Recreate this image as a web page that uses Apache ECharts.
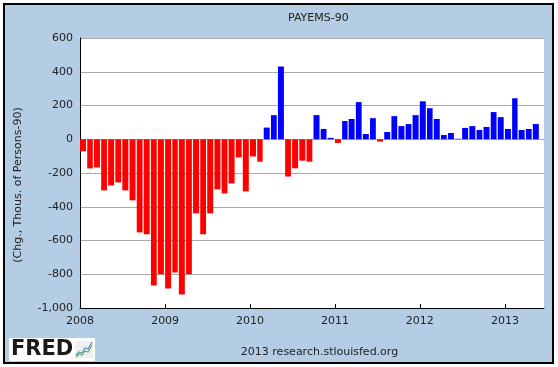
<!DOCTYPE html>
<html><head><meta charset="utf-8">
<script src="https://cdn.jsdelivr.net/npm/echarts@6/dist/echarts.min.js"></script>
<style>html,body{margin:0;padding:0;background:#fff}#c{width:558px;height:367px}</style>
</head><body><div id="c"></div>
<script>
// Monthly change, thousands of persons (PAYEMS-90), Jan 2008 - May 2013
const v2008 = [-71, -173, -167, -303, -274, -256, -303, -362, -552, -563, -867, -800];
const v2009 = [-885, -790, -920, -800, -439, -563, -439, -297, -321, -262, -108, -309];
const v2010 = [-102, -133, 69, 143, 431, -221, -172, -127, -133, 143, 61, 8];
const v2011 = [-22, 108, 120, 220, 31, 125, -14, 43, 137, 78, 90, 143];
const v2012 = [225, 184, 120, 25, 37, 3, 67, 78, 55, 73, 161, 131];
const v2013 = [61, 243, 55, 61, 90];
const years = [2008, 2009, 2010, 2011, 2012, 2013];
const yearValues = [v2008, v2009, v2010, v2011, v2012, v2013];
const yTicks = [-1000, -800, -600, -400, -200, 0, 200, 400, 600];

// each monthly observation covers its whole month: [monthStart, monthEnd, value]
const data = [];
years.forEach((yr, k) => {
  yearValues[k].forEach((val, m) => {
    data.push([Date.UTC(yr, m, 1), Date.UTC(yr, m + 1, 1), val]);
  });
});

function renderBar(params, api) {
  const start = api.value(0), end = api.value(1), val = api.value(2);
  const p0 = api.coord([start, 0]);
  const p1 = api.coord([end, val]);
  const w = (p1[0] - p0[0]) * 0.83;
  const top = Math.min(p0[1], p1[1]);
  const h = Math.abs(p1[1] - p0[1]);
  return {
    type: 'rect',
    shape: {x: p0[0], y: top, width: w, height: h},
    style: {fill: val < 0 ? '#ff0000' : '#0000ff'}
  };
}

const FONT = 'DejaVu Sans';
const chart = echarts.init(document.getElementById('c'), null, {renderer: 'canvas'});
chart.setOption({
  useUTC: true,
  backgroundColor: '#ffffff',
  animation: false,
  title: {
    text: 'PAYEMS-90', left: 283, top: 8,
    textStyle: {fontFamily: FONT, fontSize: 11, fontWeight: 'normal', color: '#222'}
  },
  grid: {left: 80, right: 14, top: 38, bottom: 59, show: true, backgroundColor: '#ffffff', borderWidth: 0, containLabel: false},
  xAxis: {
    type: 'time',
    min: Date.UTC(2008, 0, 1),
    max: Date.UTC(2013, 5, 18),
    minInterval: 365 * 24 * 3600 * 1000,
    maxInterval: 366 * 24 * 3600 * 1000,
    axisLine: {show: true, onZero: false, lineStyle: {color: '#000', width: 1}},
    axisTick: {show: true, inside: true, length: 4, lineStyle: {color: '#000'}},
    splitLine: {show: false},
    axisLabel: {
      fontFamily: FONT, fontSize: 11, color: '#222', margin: 8,
      showMinLabel: true, showMaxLabel: false,
      formatter: v => String(new Date(v + 86400000).getUTCFullYear())
    }
  },
  yAxis: {
    type: 'value', min: yTicks[0], max: yTicks[yTicks.length - 1], interval: 200,
    axisLine: {show: true, lineStyle: {color: '#000', width: 1}},
    axisTick: {show: false},
    splitLine: {show: true, lineStyle: {color: '#aaaaaa', width: 1}},
    axisLabel: {
      fontFamily: FONT, fontSize: 11, color: '#222', margin: 7,
      formatter: v => v.toLocaleString('en-US')
    }
  },
  series: [{
    type: 'custom',
    renderItem: renderBar,
    encode: {x: [0, 1], y: 2},
    data: data
  }],
  graphic: [
    {type: 'rect', z: -10, shape: {x: 4, y: 4, width: 549, height: 359},
     style: {fill: '#b4cde4', stroke: '#000', lineWidth: 2}},
    {type: 'text', x: 18, y: 185, rotation: Math.PI / 2,
     style: {text: '(Chg., Thous. of Persons-90)', font: '11px "DejaVu Sans"', fill: '#222',
             align: 'center', verticalAlign: 'middle'}},
    {type: 'text', x: 319.5, y: 352.5,
     style: {text: '2013 research.stlouisfed.org', font: '11px "DejaVu Sans"', fill: '#222',
             align: 'center', verticalAlign: 'middle'}},
    {type: 'rect', shape: {x: 9, y: 338, width: 86, height: 23}, style: {fill: '#ffffff'}},
    {type: 'text', x: 11, y: 350,
     style: {text: 'FRED', font: 'bold 21px "DejaVu Sans"', fill: '#1a1a1a', verticalAlign: 'middle'}},
    {type: 'rect', shape: {x: 75, y: 341, width: 18, height: 17}, style: {fill: '#eef1f4'}},
    {type: 'polyline', shape: {points: [[76, 357], [79, 354], [82, 355], [85, 351], [88, 352], [92, 345]]},
     style: {stroke: '#6aa84f', lineWidth: 1.2, fill: null}},
    {type: 'polyline', shape: {points: [[76, 355], [79, 352], [82, 353], [85, 348], [88, 349], [92, 342]]},
     style: {stroke: '#5b8fc7', lineWidth: 1.2, fill: null}}
  ]
});
</script>
</body></html>
